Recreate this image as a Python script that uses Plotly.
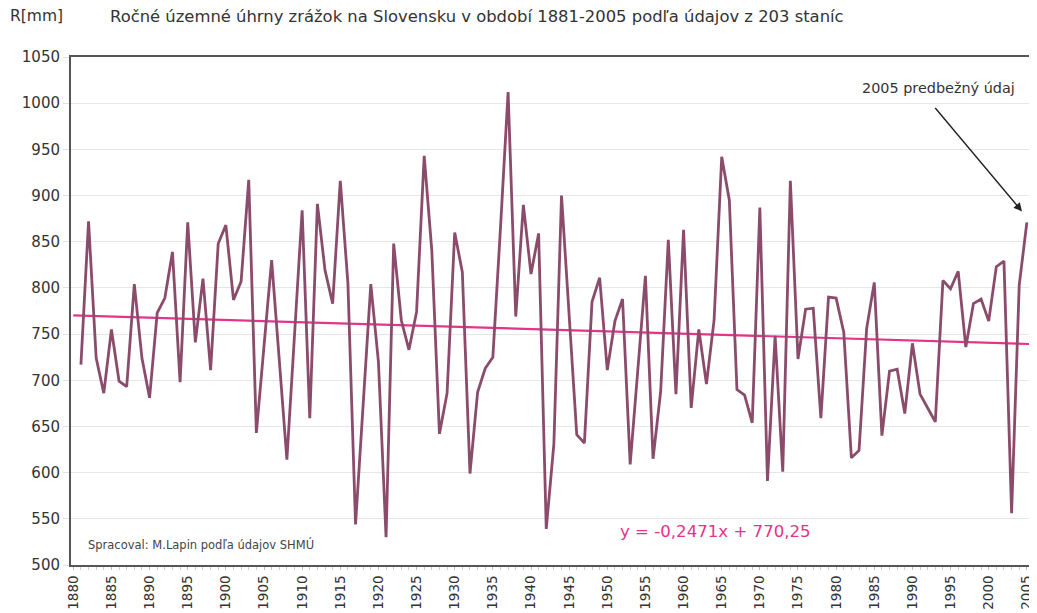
import plotly.graph_objects as go

years = list(range(1881, 2006))
precip = [
    717, 872, 724, 686, 755, 699, 693, 804, 724, 681,   # 1881-1890
    773, 789, 839, 698, 871, 741, 810, 711, 848, 868,   # 1891-1900
    787, 807, 917, 643, 737, 830, 722, 614, 749, 884,   # 1901-1910
    659, 891, 819, 783, 916, 805, 544, 675, 804, 720,   # 1911-1920
    530, 848, 765, 733, 774, 943, 840, 642, 686, 860,   # 1921-1930
    817, 599, 687, 713, 725, 865, 1012, 769, 890, 815,  # 1931-1940
    859, 539, 631, 900, 770, 641, 632, 785, 811, 711,   # 1941-1950
    764, 788, 609, 710, 813, 615, 688, 852, 685, 863,   # 1951-1960
    670, 755, 696, 765, 942, 895, 690, 684, 654, 887,   # 1961-1970
    591, 748, 601, 916, 723, 777, 778, 659, 790, 789,   # 1971-1980
    752, 616, 624, 756, 806, 640, 710, 712, 664, 740,   # 1981-1990
    685, 670, 655, 808, 799, 818, 736, 783, 788, 764,   # 1991-2000
    823, 829, 556, 803, 871,                            # 2001-2005
]

trend_slope = -0.2471
trend_intercept = 770.25
trend_years = [1880, 2007]
trend_vals = [trend_slope * (y - 1880) + trend_intercept for y in trend_years]

tick_years = list(range(1880, 2006, 5))
title_text = "Ročné územné úhrny zrážok na Slovensku v období 1881-2005 podľa údajov z 203 staníc"

FONT = "DejaVu Sans, Liberation Sans, Arial, sans-serif"

# The page has an 8px body margin, so the figure is sized to fill the window from (8, 8).
fig = go.Figure()
fig.add_trace(go.Scatter(
    x=trend_years, y=trend_vals, mode="lines",
    line=dict(color="#e5338a", width=2.2), hoverinfo="skip", showlegend=False,
))
fig.add_trace(go.Scatter(
    x=years, y=precip, mode="lines",
    line=dict(color="#8b4c6c", width=2.8), showlegend=False,
))

fig.update_layout(
    width=1029, height=605,
    margin=dict(l=63, r=1, t=49, b=48, autoexpand=False),
    paper_bgcolor="white", plot_bgcolor="white",
    font=dict(family=FONT, color="#333333"),
)

fig.update_xaxes(
    range=[1879.7, 2006.2], automargin=False,
    tickvals=tick_years, ticktext=[str(y) for y in tick_years],
    tickangle=-90, tickfont=dict(size=13.5, color="#333333"),
    showgrid=False, zeroline=False,
    showline=True, linecolor="#555555", linewidth=2, mirror=True,
    ticks="outside", ticklen=3, tickcolor="#bbbbbb",
    minor=dict(dtick=1, tick0=1880, ticks="outside", ticklen=3, tickcolor="#cccccc", showgrid=False),
)
fig.update_yaxes(
    range=[500, 1050], dtick=50, tick0=500, automargin=False,
    tickfont=dict(size=15, color="#333333"),
    showgrid=True, gridcolor="#e6e6e6", gridwidth=1, zeroline=False,
    showline=True, linecolor="#555555", linewidth=2, mirror=True,
    ticks="outside", ticklen=6, tickcolor="#e0e0e0",
)

# window-pixel -> plot-area paper coordinates (plot area spans x 71..1036, y 57..557)
def px_x(px):
    return (px - 71) / 965.0

def px_y(py):
    return (557 - py) / 500.0

fig.add_annotation(x=px_x(8), y=px_y(17), xref="paper", yref="paper",
                   text="R[mm]", showarrow=False, xanchor="left", yanchor="middle",
                   font=dict(size=15.5, color="#333333"))
fig.add_annotation(x=px_x(108), y=px_y(17), xref="paper", yref="paper",
                   text=title_text, showarrow=False, xanchor="left", yanchor="middle",
                   font=dict(size=16.4, color="#333333"))
fig.add_annotation(x=px_x(86), y=px_y(537), xref="paper", yref="paper",
                   text="Spracoval: M.Lapin podľa údajov SHMÚ", showarrow=False,
                   xanchor="left", yanchor="middle", font=dict(size=11.5, color="#444444"))
fig.add_annotation(x=px_x(715), y=px_y(524), xref="paper", yref="paper",
                   text="y = -0,2471x + 770,25", showarrow=False,
                   xanchor="center", yanchor="middle", font=dict(size=16.6, color="#e5338a"))
fig.add_annotation(x=px_x(938), y=px_y(88), xref="paper", yref="paper",
                   text="2005 predbežný údaj", showarrow=False,
                   xanchor="center", yanchor="middle", font=dict(size=14.4, color="#333333"))
fig.add_annotation(x=px_x(1022), y=px_y(209), xref="paper", yref="paper",
                   ax=-88, ay=-105, axref="pixel", ayref="pixel",
                   text="", showarrow=True, arrowhead=2, arrowsize=1.2, arrowwidth=1.4,
                   arrowcolor="#222222")

fig.write_html("out.html")
